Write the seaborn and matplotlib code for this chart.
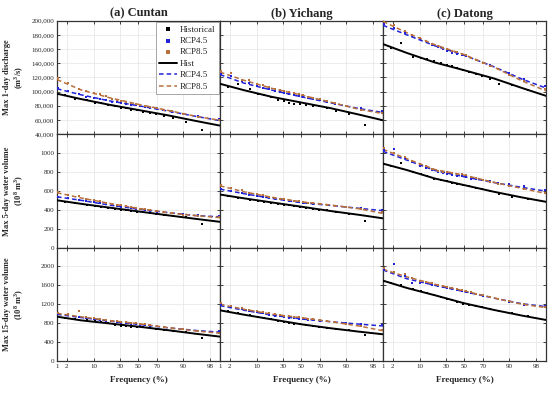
from statistics import NormalDist
import numpy as np
import matplotlib
matplotlib.use("Agg")
import matplotlib.pyplot as plt
from matplotlib.ticker import FixedLocator, FuncFormatter
import seaborn as sns

# plotting positions (exceedance frequency, %)
freq_obs = [1.8, 3.6, 7.1, 10.7, 14.3, 19.6, 25.0, 30.4, 35.7, 41.1, 48.2, 55.4, 62.5, 69.6, 76.8, 83.9, 91.1, 96.4]
freq_rcp = [1.1, 2.2, 4.4, 6.7, 10.0, 13.3, 17.8, 22.2, 26.7, 31.1, 35.6, 41.1, 46.7, 52.2, 57.8, 63.3,
            70.0, 76.7, 83.3, 90.0, 95.6, 98.9]
freq_fit = [1, 5, 20, 50, 80, 95, 99]
freq_ticks = [1, 2, 10, 30, 50, 70, 90, 98]

stations = ["(a) Cuntan", "(b) Yichang", "(c) Datong"]
row_labels = ["Max 1-day discharge\n(m$^\\mathbf{3}$/s)",
              "Max 5-day water volume\n(10$^\\mathbf{8}$ m$^\\mathbf{3}$)",
              "Max 15-day water volume\n(10$^\\mathbf{8}$ m$^\\mathbf{3}$)"]

# ---- Max 1-day discharge
q1_cuntan_obs = [94500, 90000, 88500, 84500, 83500, 81000, 79000, 77500, 76500, 74500, 73500, 71500, 70000, 68000, 66000, 63000, 57500, 46000]
q1_cuntan_r45 = [105500, 101000, 97000, 92500, 91000, 89000, 87500, 86000, 85000, 83500, 82500, 81500, 80500, 79000, 78000, 76500, 75500, 73500, 71500, 68500, 65000, 61000]
q1_cuntan_r85 = [118500, 112000, 104000, 101500, 97500, 96000, 93500, 90000, 88000, 87000, 85500, 84000, 83000, 81500, 80000, 78000, 76500, 74000, 72000, 68000, 64500, 60000]
q1_cuntan_fit_hist = [97000, 89500, 81500, 74000, 66500, 58500, 52000]
q1_cuntan_fit_r45 = [104000, 95500, 87000, 80000, 72500, 65000, 59000]
q1_cuntan_fit_r85 = [117000, 102500, 91500, 82000, 73500, 65000, 59500]

q1_yichang_obs = [106000, 110500, 103000, 97000, 95500, 92000, 87500, 86500, 84000, 83000, 82500, 81000, 80000, 79000, 76500, 73000, 69000, 53000]
q1_yichang_r45 = [125000, 121500, 115000, 112000, 108000, 105500, 103500, 101000, 99000, 98000, 96500, 95000, 93500, 92000, 90500, 89000, 87500, 85500, 83000, 80000, 76500, 72000]
q1_yichang_r85 = [129500, 126000, 117000, 116000, 111000, 109000, 106000, 104000, 102000, 100500, 99500, 97500, 96000, 94500, 93000, 91000, 89000, 86500, 83500, 79000, 74500, 69500]
q1_yichang_fit_hist = [111000, 102000, 92500, 84500, 76500, 67500, 59500]
q1_yichang_fit_r45 = [124000, 112000, 102000, 92500, 84000, 76000, 70500]
q1_yichang_fit_r85 = [127500, 116000, 104500, 95000, 85000, 75000, 69000]

q1_datong_obs = [162000, 169000, 149000, 147500, 145500, 142500, 140000, 137500, 135500, 133000, 130500, 127000, 124500, 121500, 118000, 111000, 109000, 102000]
q1_datong_r45 = [195000, 190000, 183000, 178000, 173500, 171000, 165500, 162500, 159500, 157000, 155000, 153000, 152000, 150000, 147000, 144500, 141000, 137500, 132500, 126000, 118000, 108000]
q1_datong_r85 = [199000, 194500, 186000, 180500, 175500, 172000, 167500, 164500, 161500, 159500, 157000, 155500, 153500, 151500, 148000, 145000, 141000, 136500, 131500, 124000, 114500, 103000]
q1_datong_fit_hist = [167000, 154500, 141000, 130000, 118500, 105000, 94000]
q1_datong_fit_r45 = [193500, 180000, 164500, 151000, 135000, 117500, 105000]
q1_datong_fit_r85 = [199000, 183000, 166000, 152000, 134500, 115000, 101000]

# ---- Max 5-day water volume
w5_cuntan_obs = [487, 468, 452, 440, 433, 420, 410, 402, 396, 389, 380, 373, 364, 355, 344, 336, 318, 245]
w5_cuntan_r45 = [540, 525, 508, 492, 480, 470, 460, 450, 442, 434, 428, 420, 412, 404, 397, 390, 381, 372, 362, 352, 340, 330]
w5_cuntan_r85 = [588, 560, 548, 512, 502, 488, 476, 466, 455, 447, 438, 430, 421, 412, 404, 394, 386, 374, 362, 348, 336, 322]
w5_cuntan_fit_hist = [500, 463, 423, 382, 341, 303, 272]
w5_cuntan_fit_r45 = [537, 500, 450, 407, 370, 338, 325]
w5_cuntan_fit_r85 = [580, 525, 468, 414, 367, 338, 316]

w5_yichang_obs = [548, 525, 508, 496, 484, 470, 460, 452, 446, 440, 430, 422, 412, 402, 392, 380, 358, 284]
w5_yichang_r45 = [622, 600, 582, 560, 548, 540, 528, 518, 510, 502, 496, 488, 481, 474, 468, 462, 456, 450, 442, 432, 418, 400]
w5_yichang_r85 = [660, 625, 612, 578, 565, 552, 540, 528, 518, 510, 502, 494, 488, 482, 476, 470, 462, 454, 442, 428, 405, 375]
w5_yichang_fit_hist = [561, 521, 477, 432, 386, 346, 309]
w5_yichang_fit_r45 = [618, 570, 520, 474, 445, 415, 390]
w5_yichang_fit_r85 = [653, 590, 532, 484, 450, 410, 361]

w5_datong_obs = [862, 896, 800, 780, 762, 728, 714, 700, 688, 676, 662, 646, 632, 618, 600, 565, 540, 515]
w5_datong_r45 = [1030, 1040, 950, 905, 868, 845, 822, 800, 790, 780, 772, 762, 752, 742, 730, 722, 712, 700, 686, 670, 650, 610]
w5_datong_r85 = [1048, 1000, 962, 915, 880, 858, 835, 812, 804, 796, 790, 782, 774, 766, 748, 734, 716, 698, 676, 648, 618, 580]
w5_datong_fit_hist = [888, 820, 730, 660, 590, 530, 484]
w5_datong_fit_r45 = [1018, 925, 815, 748, 688, 636, 597]
w5_datong_fit_r85 = [1039, 940, 825, 765, 690, 625, 572]

# ---- Max 15-day water volume
w15_cuntan_obs = [920, 885, 858, 836, 820, 800, 765, 748, 735, 725, 718, 710, 695, 680, 660, 640, 605, 480]
w15_cuntan_r45 = [1000, 990, 935, 900, 890, 872, 852, 836, 824, 812, 800, 790, 778, 768, 756, 744, 730, 712, 690, 668, 640, 626]
w15_cuntan_r85 = [1010, 985, 1060, 930, 910, 885, 866, 850, 840, 830, 818, 806, 796, 786, 772, 758, 742, 722, 700, 668, 636, 600]
w15_cuntan_fit_hist = [938, 860, 795, 726, 652, 575, 515]
w15_cuntan_fit_r45 = [988, 920, 845, 776, 702, 645, 610]
w15_cuntan_fit_r85 = [1008, 935, 856, 790, 705, 635, 587]

w15_yichang_obs = [1050, 1005, 972, 940, 918, 880, 842, 818, 800, 788, 772, 758, 740, 722, 702, 682, 652, 560]
w15_yichang_r45 = [1180, 1150, 1100, 1060, 1030, 1005, 980, 958, 944, 930, 918, 905, 895, 885, 874, 864, 852, 840, 826, 808, 785, 760]
w15_yichang_r85 = [1225, 1160, 1120, 1080, 1050, 1030, 1005, 985, 970, 956, 944, 932, 922, 912, 898, 884, 866, 844, 818, 780, 735, 650]
w15_yichang_fit_hist = [1072, 980, 880, 776, 692, 620, 565]
w15_yichang_fit_r45 = [1171, 1075, 970, 889, 830, 780, 741]
w15_yichang_fit_r85 = [1199, 1095, 990, 917, 830, 740, 640]

w15_datong_obs = [1650, 1600, 1520, 1480, 1440, 1395, 1350, 1315, 1282, 1250, 1215, 1188, 1160, 1135, 1100, 1065, 1020, 945]
w15_datong_r45 = [1935, 2046, 1800, 1640, 1660, 1640, 1615, 1590, 1565, 1545, 1525, 1505, 1480, 1460, 1435, 1410, 1380, 1345, 1305, 1255, 1195, 1155]
w15_datong_r85 = [1960, 1880, 1830, 1760, 1700, 1672, 1640, 1612, 1588, 1566, 1548, 1525, 1500, 1475, 1450, 1422, 1390, 1352, 1310, 1262, 1198, 1150]
w15_datong_fit_hist = [1700, 1545, 1390, 1220, 1080, 960, 868]
w15_datong_fit_r45 = [1926, 1740, 1600, 1467, 1330, 1210, 1150]
w15_datong_fit_r85 = [1940, 1780, 1622, 1480, 1335, 1200, 1130]

panels = [
    [(q1_cuntan_obs, q1_cuntan_r45, q1_cuntan_r85, q1_cuntan_fit_hist, q1_cuntan_fit_r45, q1_cuntan_fit_r85),
     (q1_yichang_obs, q1_yichang_r45, q1_yichang_r85, q1_yichang_fit_hist, q1_yichang_fit_r45, q1_yichang_fit_r85),
     (q1_datong_obs, q1_datong_r45, q1_datong_r85, q1_datong_fit_hist, q1_datong_fit_r45, q1_datong_fit_r85)],
    [(w5_cuntan_obs, w5_cuntan_r45, w5_cuntan_r85, w5_cuntan_fit_hist, w5_cuntan_fit_r45, w5_cuntan_fit_r85),
     (w5_yichang_obs, w5_yichang_r45, w5_yichang_r85, w5_yichang_fit_hist, w5_yichang_fit_r45, w5_yichang_fit_r85),
     (w5_datong_obs, w5_datong_r45, w5_datong_r85, w5_datong_fit_hist, w5_datong_fit_r45, w5_datong_fit_r85)],
    [(w15_cuntan_obs, w15_cuntan_r45, w15_cuntan_r85, w15_cuntan_fit_hist, w15_cuntan_fit_r45, w15_cuntan_fit_r85),
     (w15_yichang_obs, w15_yichang_r45, w15_yichang_r85, w15_yichang_fit_hist, w15_yichang_fit_r45, w15_yichang_fit_r85),
     (w15_datong_obs, w15_datong_r45, w15_datong_r85, w15_datong_fit_hist, w15_datong_fit_r45, w15_datong_fit_r85)],
]
ylims = [(40000, 200000), (0, 1200), (0, 2400)]
yticks = [list(range(40000, 200001, 20000)), [0, 200, 400, 600, 800, 1000], [0, 400, 800, 1200, 1600, 2000]]

c_hist = "black"
c_45 = "#2323d8"
c_85 = "#b8703c"

sns.set_style("ticks")
plt.rcParams["font.family"] = ["Liberation Serif", "DejaVu Serif"]
plt.rcParams["mathtext.fontset"] = "custom"
plt.rcParams["mathtext.rm"] = "Liberation Serif"
plt.rcParams["mathtext.bf"] = "Liberation Serif:bold"

nd = NormalDist()
_ppf = np.vectorize(nd.inv_cdf, otypes=[float])
_cdf = np.vectorize(nd.cdf, otypes=[float])


def prob_fwd(x):
    p = np.clip(np.asarray(x, dtype=float) / 100.0, 1e-6, 1 - 1e-6)
    return _ppf(p)


def prob_inv(z):
    return _cdf(np.asarray(z, dtype=float)) * 100.0


fig, axes = plt.subplots(3, 3, figsize=(5.5, 3.94), dpi=100, sharex=True, sharey="row")
fig.subplots_adjust(left=0.1036, right=0.9927, top=0.9475, bottom=0.0838, wspace=0, hspace=0)

for i in range(3):
    for j in range(3):
        ax = axes[i, j]
        ax.set_xscale("function", functions=(prob_fwd, prob_inv))
        obs, r45, r85, f_hist, f_45, f_85 = panels[i][j]
        first = (i == 0 and j == 0)

        sns.scatterplot(x=freq_obs, y=obs, ax=ax, color=c_hist, s=4, marker="s", linewidth=0,
                        label="Historical" if first else None, legend=False, zorder=4)
        sns.scatterplot(x=freq_rcp, y=r45, ax=ax, color=c_45, s=4, marker="s", linewidth=0,
                        label="RCP4.5" if first else None, legend=False, zorder=4)
        sns.scatterplot(x=freq_rcp, y=r85, ax=ax, color=c_85, s=4, marker="s", linewidth=0,
                        label="RCP8.5" if first else None, legend=False, zorder=4)
        sns.lineplot(x=freq_fit, y=f_hist, ax=ax, color=c_hist, lw=1.4, sort=False,
                     label="Hist" if first else None, legend=False, zorder=3)
        sns.lineplot(x=freq_fit, y=f_45, ax=ax, color=c_45, lw=1.1, linestyle=(0, (3, 2)), sort=False,
                     label="RCP4.5" if first else None, legend=False, zorder=3)
        sns.lineplot(x=freq_fit, y=f_85, ax=ax, color=c_85, lw=1.1, linestyle=(0, (3, 2)), sort=False,
                     label="RCP8.5" if first else None, legend=False, zorder=3)

        ax.set_xlim(1, 99)
        ax.set_ylim(*ylims[i])
        ax.xaxis.set_major_locator(FixedLocator(freq_ticks))
        ax.xaxis.set_major_formatter(FuncFormatter(lambda v, p: f"{v:g}"))
        ax.xaxis.set_minor_locator(FixedLocator([]))
        ax.yaxis.set_major_locator(FixedLocator(yticks[i]))
        if i == 0:
            ax.yaxis.set_major_formatter(FuncFormatter(lambda v, p: f"{v:,.0f}"))
        ax.grid(True, color="#e4e4e4", lw=0.5, zorder=0)
        ax.tick_params(axis="both", direction="in", length=2.5, width=0.6, labelsize=5,
                       top=True, right=True, pad=2)
        for sp in ax.spines.values():
            sp.set_linewidth(0.9)
            sp.set_color("#333333")
        ax.set_xlabel("")
        ax.set_ylabel("")

        if i == 0:
            ax.set_title(stations[j], fontsize=9, fontweight="bold", pad=3)
        if i == 2:
            ax.set_xlabel("Frequency (%)", fontsize=6.5, fontweight="bold", labelpad=5)
        if j == 0:
            ax.set_ylabel(row_labels[i], fontsize=6, fontweight="bold", linespacing=1.2)
            ax.yaxis.set_label_coords(-0.19, 0.5)

handles, labels = axes[0, 0].get_legend_handles_labels()
leg = axes[0, 0].legend(handles, labels, loc="upper right", fontsize=6.5, frameon=True, fancybox=False,
                        edgecolor="#999999", framealpha=1, borderaxespad=0.15, handlelength=2.0,
                        labelspacing=0.35, borderpad=0.35, handletextpad=0.3, markerscale=1.3)
leg.get_frame().set_linewidth(0.6)

fig.savefig("out.png", dpi=100)
